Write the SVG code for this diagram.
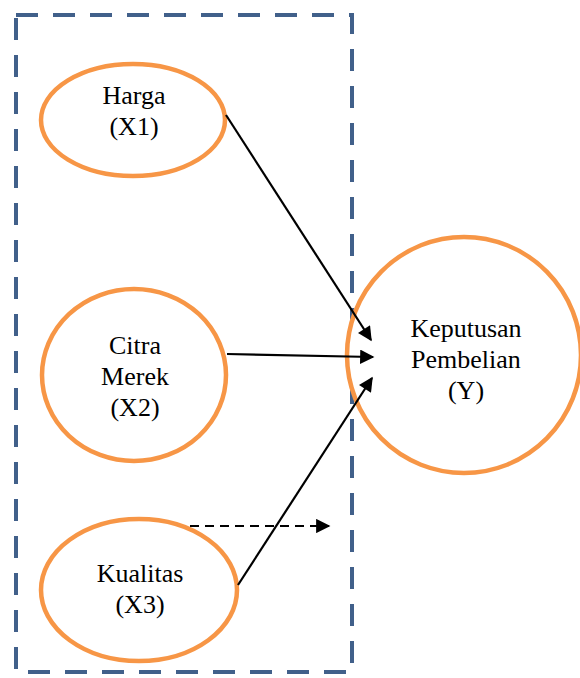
<svg xmlns="http://www.w3.org/2000/svg" width="580" height="678" viewBox="0 0 580 678">
<style>
.n{fill:#fff;stroke:#F79646;stroke-width:4.5}
.t{font-family:"Liberation Serif","Times New Roman",serif;font-size:26px;fill:#000;text-anchor:middle}
.c{stroke:#000;stroke-width:2.2;fill:none}
</style>
<defs>
<marker id="ah" viewBox="0 0 10 10" refX="9" refY="5" markerWidth="7.5" markerHeight="6.5" markerUnits="strokeWidth" orient="auto">
<path d="M0,0L10,5L0,10z" fill="#000"/>
</marker>
</defs>
<rect id="frame" x="16" y="15" width="336" height="657" fill="none" stroke="#41608A" stroke-width="4" stroke-dasharray="22,15"/>
<g id="harga"><ellipse class="n" cx="133" cy="120" rx="92" ry="56"/><text class="t" x="134" y="104">Harga</text><text class="t" x="134" y="135">(X1)</text></g>
<g id="citra"><ellipse class="n" cx="134" cy="375" rx="92" ry="86"/><text class="t" x="135" y="354">Citra</text><text class="t" x="135" y="385">Merek</text><text class="t" x="135" y="416">(X2)</text></g>
<g id="kualitas"><ellipse class="n" cx="139" cy="590" rx="98" ry="71"/><text class="t" x="140" y="582">Kualitas</text><text class="t" x="140" y="613">(X3)</text></g>
<g id="keputusan"><ellipse class="n" cx="464" cy="355" rx="117" ry="118"/><text class="t" x="466" y="337">Keputusan</text><text class="t" x="466" y="368">Pembelian</text><text class="t" x="466" y="399">(Y)</text></g>
<g id="connectors">
<line class="c" x1="226" y1="115" x2="371" y2="340" marker-end="url(#ah)"/>
<line class="c" x1="227" y1="354" x2="373" y2="357" marker-end="url(#ah)"/>
<line class="c" x1="238" y1="585" x2="372" y2="378" marker-end="url(#ah)"/>
<line class="c" x1="190" y1="526" x2="329" y2="526" stroke-dasharray="9,6" marker-end="url(#ah)"/>
</g>
</svg>
